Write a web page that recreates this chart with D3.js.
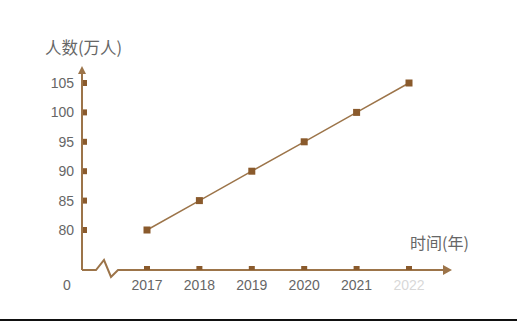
<!DOCTYPE html>
<html>
<head>
<meta charset="utf-8">
<script src="https://cdn.jsdelivr.net/npm/d3@7"></script>
<style>
  body { margin: 0; background: #fff; }
  text { font-family: "Liberation Sans", Arial, sans-serif; fill: #666; }
</style>
</head>
<body>
<div id="chart"></div>
<script>
var years = [2017, 2018, 2019, 2020, 2021, 2022];
var people = [80, 85, 90, 95, 100, 105];
var yTicks = [80, 85, 90, 95, 100, 105];

var width = 517, height = 322;
var brown = "#9c7449", dark = "#8a5a2c";
var ox = 82, oy = 270;

var svg = d3.select("#chart").append("svg")
    .attr("width", width)
    .attr("height", height);

var x = d3.scaleLinear().domain([2017, 2022]).range([147, 409]);
var y = d3.scaleLinear().domain([80, 105]).range([230, 83]);

// y axis with arrow
svg.append("line")
    .attr("x1", ox).attr("y1", oy).attr("x2", ox).attr("y2", 70)
    .attr("stroke", brown).attr("stroke-width", 2);
svg.append("path")
    .attr("d", "M" + (ox - 4) + ",74 L" + ox + ",66 L" + (ox + 4) + ",74 Z")
    .attr("fill", brown);

// x axis with break and arrow
svg.append("path")
    .attr("d", "M" + ox + "," + oy + " L96," + oy + " L104,260 L111,277 L118," + oy + " L446," + oy)
    .attr("fill", "none").attr("stroke", brown).attr("stroke-width", 2);
svg.append("path")
    .attr("d", "M443,265 L452," + oy + " L443,275 Z")
    .attr("fill", brown);

// y ticks
svg.selectAll(".ytick").data(yTicks).enter().append("rect")
    .attr("x", ox + 1).attr("y", function(d) { return y(d) - 3; })
    .attr("width", 4).attr("height", 6)
    .attr("fill", dark);
svg.selectAll(".ylab").data(yTicks).enter().append("text")
    .attr("x", 74).attr("y", function(d) { return y(d); })
    .attr("dy", "0.35em").attr("text-anchor", "end")
    .style("font-size", "14px")
    .text(function(d) { return d; });

// x ticks
svg.selectAll(".xtick").data(years).enter().append("rect")
    .attr("x", function(d) { return x(d) - 3; }).attr("y", oy - 4)
    .attr("width", 6).attr("height", 4)
    .attr("fill", dark);
svg.selectAll(".xlab").data(years).enter().append("text")
    .attr("x", function(d) { return x(d); }).attr("y", 285)
    .attr("dy", "0.35em").attr("text-anchor", "middle")
    .style("font-size", "14px")
    .style("opacity", function(d) { return d === 2022 ? 0.25 : 1; })
    .text(function(d) { return d; });
svg.append("text")
    .attr("x", 67).attr("y", 285).attr("dy", "0.35em")
    .attr("text-anchor", "middle").style("font-size", "14px")
    .text("0");

// line
var line = d3.line()
    .x(function(d, i) { return x(years[i]); })
    .y(function(d) { return y(d); });
svg.append("path")
    .datum(people)
    .attr("d", line)
    .attr("fill", "none").attr("stroke", brown).attr("stroke-width", 1.5);
svg.selectAll(".pt").data(people).enter().append("rect")
    .attr("x", function(d, i) { return x(years[i]) - 3.5; })
    .attr("y", function(d) { return y(d) - 3.5; })
    .attr("width", 7).attr("height", 7)
    .attr("fill", dark);

// axis titles
svg.append("text")
    .attr("x", 45).attr("y", 48).attr("dy", "0.35em")
    .style("font-family", "'Noto Sans CJK SC', sans-serif")
    .style("font-size", "16.5px")
    .text("人数(万人)");
svg.append("text")
    .attr("x", 410).attr("y", 243).attr("dy", "0.35em")
    .style("font-family", "'Noto Sans CJK SC', sans-serif")
    .style("font-size", "16px")
    .text("时间(年)");

// bottom rule
svg.append("line")
    .attr("x1", 0).attr("x2", width).attr("y1", 320).attr("y2", 320)
    .attr("stroke", "#111").attr("stroke-width", 2);
</script>
</body>
</html>
